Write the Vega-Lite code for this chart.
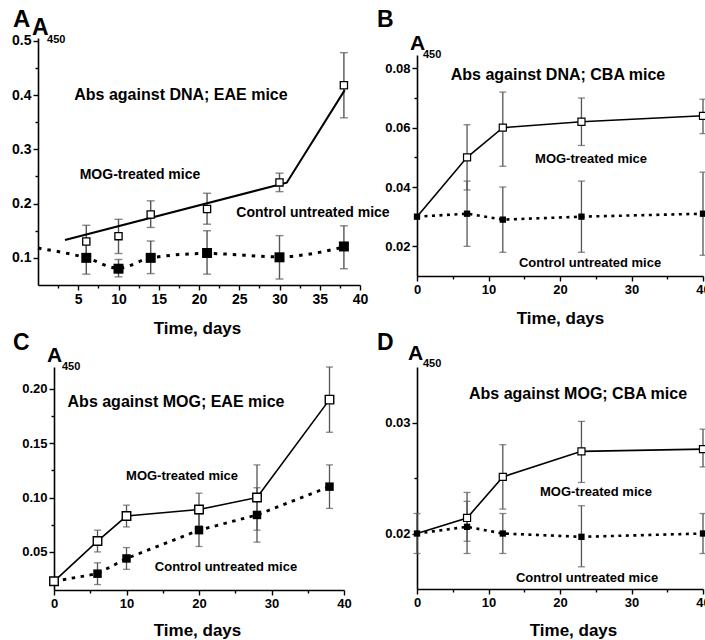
{
  "$schema": "https://vega.github.io/schema/vega-lite/v6.json",
  "width": 705,
  "height": 640,
  "autosize": {"type": "none"},
  "padding": 0,
  "background": "white",
  "config": {
    "view": {"stroke": null},
    "axis": {"domainColor": "black", "domainWidth": 1.6, "tickColor": "black", "tickWidth": 1.4, "labelFont": "Liberation Sans", "labelFontWeight": "bold", "labelFontSize": 13, "labelColor": "black", "titleFont": "Liberation Sans", "titleFontWeight": "bold", "titleFontSize": 17, "titleColor": "black", "grid": false, "labelFlush": false, "labelPadding": 2},
    "text": {"font": "Liberation Sans", "fontWeight": "bold", "color": "black"}
  },
  "datasets": {
    "ptsA": [
      {"series": "MOG", "day": 6, "val": 0.130, "lo": 0.100, "hi": 0.160},
      {"series": "MOG", "day": 10, "val": 0.140, "lo": 0.108, "hi": 0.171},
      {"series": "MOG", "day": 14, "val": 0.180, "lo": 0.156, "hi": 0.205},
      {"series": "MOG", "day": 21, "val": 0.190, "lo": 0.162, "hi": 0.219},
      {"series": "MOG", "day": 30, "val": 0.239, "lo": 0.222, "hi": 0.256},
      {"series": "MOG", "day": 38, "val": 0.418, "lo": 0.358, "hi": 0.478},
      {"series": "Control", "day": 6, "val": 0.100, "lo": 0.070, "hi": 0.130},
      {"series": "Control", "day": 10, "val": 0.080, "lo": 0.065, "hi": 0.097},
      {"series": "Control", "day": 14, "val": 0.100, "lo": 0.071, "hi": 0.131},
      {"series": "Control", "day": 21, "val": 0.109, "lo": 0.070, "hi": 0.150},
      {"series": "Control", "day": 30, "val": 0.101, "lo": 0.061, "hi": 0.141},
      {"series": "Control", "day": 38, "val": 0.121, "lo": 0.080, "hi": 0.159}
    ],
    "lineA": [
      {"series": "MOG", "day": 3.35, "val": 0.133},
      {"series": "MOG", "day": 30.9, "val": 0.2385},
      {"series": "MOG", "day": 38.1, "val": 0.409},
      {"series": "Control", "day": 0, "val": 0.118},
      {"series": "Control", "day": 6, "val": 0.100},
      {"series": "Control", "day": 10, "val": 0.081},
      {"series": "Control", "day": 14, "val": 0.100},
      {"series": "Control", "day": 21, "val": 0.108},
      {"series": "Control", "day": 30, "val": 0.102},
      {"series": "Control", "day": 38, "val": 0.120}
    ],
    "ptsB": [
      {"series": "MOG", "day": 0, "val": 0.030, "lo": null, "hi": null},
      {"series": "MOG", "day": 7, "val": 0.050, "lo": 0.039, "hi": 0.061},
      {"series": "MOG", "day": 12, "val": 0.060, "lo": 0.047, "hi": 0.072},
      {"series": "MOG", "day": 23, "val": 0.062, "lo": 0.054, "hi": 0.070},
      {"series": "MOG", "day": 40, "val": 0.064, "lo": 0.058, "hi": 0.0696},
      {"series": "Control", "day": 0, "val": 0.030, "lo": null, "hi": null},
      {"series": "Control", "day": 7, "val": 0.031, "lo": 0.020, "hi": 0.042},
      {"series": "Control", "day": 12, "val": 0.029, "lo": 0.018, "hi": 0.040},
      {"series": "Control", "day": 23, "val": 0.030, "lo": 0.018, "hi": 0.042},
      {"series": "Control", "day": 40, "val": 0.031, "lo": 0.017, "hi": 0.045}
    ],
    "ptsC": [
      {"series": "MOG", "day": 0, "val": 0.023, "lo": null, "hi": null},
      {"series": "MOG", "day": 6, "val": 0.060, "lo": 0.050, "hi": 0.070},
      {"series": "MOG", "day": 10, "val": 0.083, "lo": 0.073, "hi": 0.093},
      {"series": "MOG", "day": 20, "val": 0.089, "lo": 0.074, "hi": 0.104},
      {"series": "MOG", "day": 28, "val": 0.100, "lo": 0.070, "hi": 0.130},
      {"series": "MOG", "day": 38, "val": 0.190, "lo": 0.160, "hi": 0.220},
      {"series": "Control", "day": 0, "val": 0.023, "lo": null, "hi": null},
      {"series": "Control", "day": 6, "val": 0.030, "lo": 0.020, "hi": 0.040},
      {"series": "Control", "day": 10, "val": 0.044, "lo": 0.034, "hi": 0.054},
      {"series": "Control", "day": 20, "val": 0.070, "lo": 0.055, "hi": 0.085},
      {"series": "Control", "day": 28, "val": 0.084, "lo": 0.059, "hi": 0.109},
      {"series": "Control", "day": 38, "val": 0.110, "lo": 0.090, "hi": 0.130}
    ],
    "ptsD": [
      {"series": "MOG", "day": 0, "val": 0.0200, "lo": null, "hi": null},
      {"series": "MOG", "day": 7, "val": 0.0214, "lo": 0.0193, "hi": 0.0237},
      {"series": "MOG", "day": 12, "val": 0.0251, "lo": 0.0222, "hi": 0.0280},
      {"series": "MOG", "day": 23, "val": 0.0274, "lo": 0.0246, "hi": 0.0301},
      {"series": "MOG", "day": 40, "val": 0.0276, "lo": 0.0260, "hi": 0.0294},
      {"series": "Control", "day": 0, "val": 0.0200, "lo": 0.0182, "hi": 0.0218},
      {"series": "Control", "day": 7, "val": 0.0206, "lo": 0.0182, "hi": 0.0229},
      {"series": "Control", "day": 12, "val": 0.0200, "lo": 0.0182, "hi": 0.0218},
      {"series": "Control", "day": 23, "val": 0.0197, "lo": 0.0170, "hi": 0.0225},
      {"series": "Control", "day": 40, "val": 0.0200, "lo": 0.0182, "hi": 0.0218}
    ]
  },
  "resolve": {"scale": {"x": "independent", "y": "independent"}, "axis": {"x": "independent", "y": "independent"}},
  "layer": [
    {
      "layer": [
        {"data": {"name": "ptsA"}, "mark": {"type": "rule", "color": "#555", "strokeWidth": 1.4},
         "encoding": {
           "x": {"field": "day", "type": "quantitative", "scale": {"domain": [0, 40], "range": [38, 360], "nice": false, "zero": false},
                 "axis": {"orient": "bottom", "offset": -355, "values": [2.5, 5, 7.5, 10, 12.5, 15, 17.5, 20, 22.5, 25, 27.5, 30, 32.5, 35, 37.5, 40], "labelExpr": "datum.value % 5 === 0 ? datum.label : ''", "tickSize": {"condition": {"test": "datum.value % 5 !== 0", "value": 3}, "value": 5}, "title": "Time, days", "titleX": 197, "titleY": 43, "titleBaseline": "middle", "labelFontSize": 14}},
           "y": {"field": "lo", "type": "quantitative", "scale": {"domain": [0.05, 0.505], "range": [285, 38], "nice": false, "zero": false},
                 "axis": {"orient": "left", "offset": -38, "values": [0.1, 0.15, 0.2, 0.25, 0.3, 0.35, 0.4, 0.45, 0.5], "labelExpr": "indexof([0.1, 0.2, 0.3, 0.4, 0.5], datum.value) >= 0 ? format(datum.value, '.1f') : ''", "tickSize": {"condition": {"test": "indexof([0.1, 0.2, 0.3, 0.4, 0.5], datum.value) < 0", "value": 3}, "value": 5}, "title": null, "labelFontSize": 14}},
           "y2": {"field": "hi"}}},
        {"data": {"name": "ptsA"}, "mark": {"type": "tick", "orient": "horizontal", "size": 8, "thickness": 1.4, "color": "#555"},
         "encoding": {
           "x": {"field": "day", "type": "quantitative", "scale": {"domain": [0, 40], "range": [38, 360], "nice": false, "zero": false}},
           "y": {"field": "lo", "type": "quantitative", "scale": {"domain": [0.05, 0.505], "range": [285, 38], "nice": false, "zero": false}}}},
        {"data": {"name": "ptsA"}, "mark": {"type": "tick", "orient": "horizontal", "size": 8, "thickness": 1.4, "color": "#555"},
         "encoding": {
           "x": {"field": "day", "type": "quantitative", "scale": {"domain": [0, 40], "range": [38, 360], "nice": false, "zero": false}},
           "y": {"field": "hi", "type": "quantitative", "scale": {"domain": [0.05, 0.505], "range": [285, 38], "nice": false, "zero": false}}}},
        {"data": {"name": "lineA"}, "transform": [{"filter": "datum.series === 'MOG'"}], "mark": {"type": "line", "color": "black", "strokeWidth": 2},
         "encoding": {
           "x": {"field": "day", "type": "quantitative", "scale": {"domain": [0, 40], "range": [38, 360], "nice": false, "zero": false}},
           "y": {"field": "val", "type": "quantitative", "scale": {"domain": [0.05, 0.505], "range": [285, 38], "nice": false, "zero": false}}}},
        {"data": {"name": "lineA"}, "transform": [{"filter": "datum.series === 'Control'"}], "mark": {"type": "line", "color": "black", "strokeWidth": 3, "strokeDash": [3.5, 6], "interpolate": "monotone"},
         "encoding": {
           "x": {"field": "day", "type": "quantitative", "scale": {"domain": [0, 40], "range": [38, 360], "nice": false, "zero": false}},
           "y": {"field": "val", "type": "quantitative", "scale": {"domain": [0.05, 0.505], "range": [285, 38], "nice": false, "zero": false}}}},
        {"data": {"name": "ptsA"}, "transform": [{"filter": "datum.series === 'Control'"}], "mark": {"type": "square", "size": 100, "color": "black", "opacity": 1},
         "encoding": {
           "x": {"field": "day", "type": "quantitative", "scale": {"domain": [0, 40], "range": [38, 360], "nice": false, "zero": false}},
           "y": {"field": "val", "type": "quantitative", "scale": {"domain": [0.05, 0.505], "range": [285, 38], "nice": false, "zero": false}}}},
        {"data": {"name": "ptsA"}, "transform": [{"filter": "datum.series === 'MOG'"}], "mark": {"type": "square", "size": 52, "fill": "white", "stroke": "black", "strokeWidth": 1.3, "opacity": 1},
         "encoding": {
           "x": {"field": "day", "type": "quantitative", "scale": {"domain": [0, 40], "range": [38, 360], "nice": false, "zero": false}},
           "y": {"field": "val", "type": "quantitative", "scale": {"domain": [0.05, 0.505], "range": [285, 38], "nice": false, "zero": false}}}},
        {"data": {"values": [{}]}, "mark": {"type": "text", "text": "A", "fontSize": 24, "align": "left", "baseline": "alphabetic"},
         "encoding": {
           "x": {"datum": -3.11, "type": "quantitative", "scale": {"domain": [0, 40], "range": [38, 360], "nice": false, "zero": false}},
           "y": {"datum": 0.5253, "type": "quantitative", "scale": {"domain": [0.05, 0.505], "range": [285, 38], "nice": false, "zero": false}}}},
        {"data": {"values": [{}]}, "mark": {"type": "text", "text": "A", "fontSize": 23, "align": "left", "baseline": "alphabetic"},
         "encoding": {
           "x": {"datum": -0.745, "type": "quantitative", "scale": {"domain": [0, 40], "range": [38, 360], "nice": false, "zero": false}},
           "y": {"datum": 0.5105, "type": "quantitative", "scale": {"domain": [0.05, 0.505], "range": [285, 38], "nice": false, "zero": false}}}},
        {"data": {"values": [{}]}, "mark": {"type": "text", "text": "450", "fontSize": 11, "align": "left", "baseline": "alphabetic"},
         "encoding": {
           "x": {"datum": 1.12, "type": "quantitative", "scale": {"domain": [0, 40], "range": [38, 360], "nice": false, "zero": false}},
           "y": {"datum": 0.4958, "type": "quantitative", "scale": {"domain": [0.05, 0.505], "range": [285, 38], "nice": false, "zero": false}}}},
        {"data": {"values": [{}]}, "mark": {"type": "text", "text": "Abs against DNA; EAE mice", "fontSize": 16, "align": "center", "baseline": "middle"},
         "encoding": {
           "x": {"datum": 17.76, "type": "quantitative", "scale": {"domain": [0, 40], "range": [38, 360], "nice": false, "zero": false}},
           "y": {"datum": 0.400, "type": "quantitative", "scale": {"domain": [0.05, 0.505], "range": [285, 38], "nice": false, "zero": false}}}},
        {"data": {"values": [{}]}, "mark": {"type": "text", "text": "MOG-treated mice", "fontSize": 14, "align": "center", "baseline": "middle"},
         "encoding": {
           "x": {"datum": 12.67, "type": "quantitative", "scale": {"domain": [0, 40], "range": [38, 360], "nice": false, "zero": false}},
           "y": {"datum": 0.2526, "type": "quantitative", "scale": {"domain": [0.05, 0.505], "range": [285, 38], "nice": false, "zero": false}}}},
        {"data": {"values": [{}]}, "mark": {"type": "text", "text": "Control untreated mice", "fontSize": 14, "align": "center", "baseline": "middle"},
         "encoding": {
           "x": {"datum": 34.16, "type": "quantitative", "scale": {"domain": [0, 40], "range": [38, 360], "nice": false, "zero": false}},
           "y": {"datum": 0.1826, "type": "quantitative", "scale": {"domain": [0.05, 0.505], "range": [285, 38], "nice": false, "zero": false}}}}
      ]
    },
    {
      "layer": [
        {"data": {"name": "ptsB"}, "mark": {"type": "rule", "color": "#555", "strokeWidth": 1.3},
         "encoding": {
           "x": {"field": "day", "type": "quantitative", "scale": {"domain": [0, 40], "range": [417, 703], "nice": false, "zero": false},
                 "axis": {"orient": "bottom", "offset": -364, "values": [0, 5, 10, 15, 20, 25, 30, 35, 40], "labelExpr": "datum.value % 10 === 0 ? datum.label : ''", "tickSize": {"condition": {"test": "datum.value % 10 !== 0", "value": 3}, "value": 5}, "title": "Time, days", "titleY": 42, "titleBaseline": "middle"}},
           "y": {"field": "lo", "type": "quantitative", "scale": {"domain": [0.01, 0.0845], "range": [276, 55], "nice": false, "zero": false},
                 "axis": {"orient": "left", "offset": -417, "values": [0.02, 0.03, 0.04, 0.05, 0.06, 0.07, 0.08], "labelExpr": "indexof([0.02, 0.04, 0.06, 0.08], datum.value) >= 0 ? format(datum.value, '.2f') : ''", "tickSize": {"condition": {"test": "indexof([0.02, 0.04, 0.06, 0.08], datum.value) < 0", "value": 3}, "value": 5}, "title": null}},
           "y2": {"field": "hi"}}},
        {"data": {"name": "ptsB"}, "mark": {"type": "tick", "orient": "horizontal", "size": 7, "thickness": 1.3, "color": "#555"},
         "encoding": {
           "x": {"field": "day", "type": "quantitative", "scale": {"domain": [0, 40], "range": [417, 703], "nice": false, "zero": false}},
           "y": {"field": "lo", "type": "quantitative", "scale": {"domain": [0.01, 0.0845], "range": [276, 55], "nice": false, "zero": false}}}},
        {"data": {"name": "ptsB"}, "mark": {"type": "tick", "orient": "horizontal", "size": 7, "thickness": 1.3, "color": "#555"},
         "encoding": {
           "x": {"field": "day", "type": "quantitative", "scale": {"domain": [0, 40], "range": [417, 703], "nice": false, "zero": false}},
           "y": {"field": "hi", "type": "quantitative", "scale": {"domain": [0.01, 0.0845], "range": [276, 55], "nice": false, "zero": false}}}},
        {"data": {"name": "ptsB"}, "transform": [{"filter": "datum.series === 'MOG'"}], "mark": {"type": "line", "color": "black", "strokeWidth": 1.6},
         "encoding": {
           "x": {"field": "day", "type": "quantitative", "scale": {"domain": [0, 40], "range": [417, 703], "nice": false, "zero": false}},
           "y": {"field": "val", "type": "quantitative", "scale": {"domain": [0.01, 0.0845], "range": [276, 55], "nice": false, "zero": false}}}},
        {"data": {"name": "ptsB"}, "transform": [{"filter": "datum.series === 'Control'"}], "mark": {"type": "line", "color": "black", "strokeWidth": 2.6, "strokeDash": [3, 4.5]},
         "encoding": {
           "x": {"field": "day", "type": "quantitative", "scale": {"domain": [0, 40], "range": [417, 703], "nice": false, "zero": false}},
           "y": {"field": "val", "type": "quantitative", "scale": {"domain": [0.01, 0.0845], "range": [276, 55], "nice": false, "zero": false}}}},
        {"data": {"name": "ptsB"}, "transform": [{"filter": "datum.series === 'MOG' && datum.day > 0"}], "mark": {"type": "square", "size": 50, "fill": "white", "stroke": "black", "strokeWidth": 1.2, "opacity": 1},
         "encoding": {
           "x": {"field": "day", "type": "quantitative", "scale": {"domain": [0, 40], "range": [417, 703], "nice": false, "zero": false}},
           "y": {"field": "val", "type": "quantitative", "scale": {"domain": [0.01, 0.0845], "range": [276, 55], "nice": false, "zero": false}}}},
        {"data": {"name": "ptsB"}, "transform": [{"filter": "datum.series === 'Control'"}], "mark": {"type": "square", "size": 40, "color": "black", "opacity": 1},
         "encoding": {
           "x": {"field": "day", "type": "quantitative", "scale": {"domain": [0, 40], "range": [417, 703], "nice": false, "zero": false}},
           "y": {"field": "val", "type": "quantitative", "scale": {"domain": [0.01, 0.0845], "range": [276, 55], "nice": false, "zero": false}}}},
        {"data": {"values": [{}]}, "mark": {"type": "text", "text": "B", "fontSize": 23, "align": "left", "baseline": "alphabetic"},
         "encoding": {
           "x": {"datum": -5.59, "type": "quantitative", "scale": {"domain": [0, 40], "range": [417, 703], "nice": false, "zero": false}},
           "y": {"datum": 0.09394, "type": "quantitative", "scale": {"domain": [0.01, 0.0845], "range": [276, 55], "nice": false, "zero": false}}}},
        {"data": {"values": [{}]}, "mark": {"type": "text", "text": "A", "fontSize": 21, "align": "left", "baseline": "alphabetic"},
         "encoding": {
           "x": {"datum": -0.98, "type": "quantitative", "scale": {"domain": [0, 40], "range": [417, 703], "nice": false, "zero": false}},
           "y": {"datum": 0.08619, "type": "quantitative", "scale": {"domain": [0.01, 0.0845], "range": [276, 55], "nice": false, "zero": false}}}},
        {"data": {"values": [{}]}, "mark": {"type": "text", "text": "450", "fontSize": 11, "align": "left", "baseline": "alphabetic"},
         "encoding": {
           "x": {"datum": 0.84, "type": "quantitative", "scale": {"domain": [0, 40], "range": [417, 703], "nice": false, "zero": false}},
           "y": {"datum": 0.08349, "type": "quantitative", "scale": {"domain": [0.01, 0.0845], "range": [276, 55], "nice": false, "zero": false}}}},
        {"data": {"values": [{}]}, "mark": {"type": "text", "text": "Abs against DNA; CBA mice", "fontSize": 16, "align": "center", "baseline": "middle"},
         "encoding": {
           "x": {"datum": 19.72, "type": "quantitative", "scale": {"domain": [0, 40], "range": [417, 703], "nice": false, "zero": false}},
           "y": {"datum": 0.07776, "type": "quantitative", "scale": {"domain": [0.01, 0.0845], "range": [276, 55], "nice": false, "zero": false}}}},
        {"data": {"values": [{}]}, "mark": {"type": "text", "text": "MOG-treated mice", "fontSize": 13, "align": "center", "baseline": "middle"},
         "encoding": {
           "x": {"datum": 24.34, "type": "quantitative", "scale": {"domain": [0, 40], "range": [417, 703], "nice": false, "zero": false}},
           "y": {"datum": 0.04944, "type": "quantitative", "scale": {"domain": [0.01, 0.0845], "range": [276, 55], "nice": false, "zero": false}}}},
        {"data": {"values": [{}]}, "mark": {"type": "text", "text": "Control untreated mice", "fontSize": 13, "align": "center", "baseline": "middle"},
         "encoding": {
           "x": {"datum": 24.2, "type": "quantitative", "scale": {"domain": [0, 40], "range": [417, 703], "nice": false, "zero": false}},
           "y": {"datum": 0.01438, "type": "quantitative", "scale": {"domain": [0.01, 0.0845], "range": [276, 55], "nice": false, "zero": false}}}}
      ]
    },
    {
      "layer": [
        {"data": {"name": "ptsC"}, "mark": {"type": "rule", "color": "#555", "strokeWidth": 1.3},
         "encoding": {
           "x": {"field": "day", "type": "quantitative", "scale": {"domain": [0, 40], "range": [54, 344], "nice": false, "zero": false},
                 "axis": {"orient": "bottom", "offset": -50, "values": [0, 5, 10, 15, 20, 25, 30, 35, 40], "labelExpr": "datum.value % 10 === 0 ? datum.label : ''", "tickSize": {"condition": {"test": "datum.value % 10 !== 0", "value": 3}, "value": 5}, "title": "Time, days", "titleX": 197, "titleY": 40, "titleBaseline": "middle"}},
           "y": {"field": "lo", "type": "quantitative", "scale": {"domain": [0.015, 0.22], "range": [590, 367], "nice": false, "zero": false},
                 "axis": {"orient": "left", "offset": -54, "values": [0.025, 0.05, 0.075, 0.1, 0.125, 0.15, 0.175, 0.2], "labelExpr": "indexof([0.05, 0.1, 0.15, 0.2], datum.value) >= 0 ? format(datum.value, '.2f') : ''", "tickSize": {"condition": {"test": "indexof([0.05, 0.1, 0.15, 0.2], datum.value) < 0", "value": 3}, "value": 5}, "title": null}},
           "y2": {"field": "hi"}}},
        {"data": {"name": "ptsC"}, "mark": {"type": "tick", "orient": "horizontal", "size": 7, "thickness": 1.3, "color": "#555"},
         "encoding": {
           "x": {"field": "day", "type": "quantitative", "scale": {"domain": [0, 40], "range": [54, 344], "nice": false, "zero": false}},
           "y": {"field": "lo", "type": "quantitative", "scale": {"domain": [0.015, 0.22], "range": [590, 367], "nice": false, "zero": false}}}},
        {"data": {"name": "ptsC"}, "mark": {"type": "tick", "orient": "horizontal", "size": 7, "thickness": 1.3, "color": "#555"},
         "encoding": {
           "x": {"field": "day", "type": "quantitative", "scale": {"domain": [0, 40], "range": [54, 344], "nice": false, "zero": false}},
           "y": {"field": "hi", "type": "quantitative", "scale": {"domain": [0.015, 0.22], "range": [590, 367], "nice": false, "zero": false}}}},
        {"data": {"name": "ptsC"}, "transform": [{"filter": "datum.series === 'MOG'"}], "mark": {"type": "line", "color": "black", "strokeWidth": 1.6},
         "encoding": {
           "x": {"field": "day", "type": "quantitative", "scale": {"domain": [0, 40], "range": [54, 344], "nice": false, "zero": false}},
           "y": {"field": "val", "type": "quantitative", "scale": {"domain": [0.015, 0.22], "range": [590, 367], "nice": false, "zero": false}}}},
        {"data": {"name": "ptsC"}, "transform": [{"filter": "datum.series === 'Control'"}], "mark": {"type": "line", "color": "black", "strokeWidth": 2.8, "strokeDash": [3.5, 5.5]},
         "encoding": {
           "x": {"field": "day", "type": "quantitative", "scale": {"domain": [0, 40], "range": [54, 344], "nice": false, "zero": false}},
           "y": {"field": "val", "type": "quantitative", "scale": {"domain": [0.015, 0.22], "range": [590, 367], "nice": false, "zero": false}}}},
        {"data": {"name": "ptsC"}, "transform": [{"filter": "datum.series === 'Control'"}], "mark": {"type": "square", "size": 72, "color": "black", "opacity": 1},
         "encoding": {
           "x": {"field": "day", "type": "quantitative", "scale": {"domain": [0, 40], "range": [54, 344], "nice": false, "zero": false}},
           "y": {"field": "val", "type": "quantitative", "scale": {"domain": [0.015, 0.22], "range": [590, 367], "nice": false, "zero": false}}}},
        {"data": {"name": "ptsC"}, "transform": [{"filter": "datum.series === 'MOG'"}], "mark": {"type": "square", "size": 72, "fill": "white", "stroke": "black", "strokeWidth": 1.4, "opacity": 1},
         "encoding": {
           "x": {"field": "day", "type": "quantitative", "scale": {"domain": [0, 40], "range": [54, 344], "nice": false, "zero": false}},
           "y": {"field": "val", "type": "quantitative", "scale": {"domain": [0.015, 0.22], "range": [590, 367], "nice": false, "zero": false}}}},
        {"data": {"values": [{}]}, "mark": {"type": "text", "text": "C", "fontSize": 23, "align": "left", "baseline": "alphabetic"},
         "encoding": {
           "x": {"datum": -5.655, "type": "quantitative", "scale": {"domain": [0, 40], "range": [54, 344], "nice": false, "zero": false}},
           "y": {"datum": 0.2356, "type": "quantitative", "scale": {"domain": [0.015, 0.22], "range": [590, 367], "nice": false, "zero": false}}}},
        {"data": {"values": [{}]}, "mark": {"type": "text", "text": "A", "fontSize": 21, "align": "left", "baseline": "alphabetic"},
         "encoding": {
           "x": {"datum": -0.966, "type": "quantitative", "scale": {"domain": [0, 40], "range": [54, 344], "nice": false, "zero": false}},
           "y": {"datum": 0.2246, "type": "quantitative", "scale": {"domain": [0.015, 0.22], "range": [590, 367], "nice": false, "zero": false}}}},
        {"data": {"values": [{}]}, "mark": {"type": "text", "text": "450", "fontSize": 11, "align": "left", "baseline": "alphabetic"},
         "encoding": {
           "x": {"datum": 1.103, "type": "quantitative", "scale": {"domain": [0, 40], "range": [54, 344], "nice": false, "zero": false}},
           "y": {"datum": 0.2172, "type": "quantitative", "scale": {"domain": [0.015, 0.22], "range": [590, 367], "nice": false, "zero": false}}}},
        {"data": {"values": [{}]}, "mark": {"type": "text", "text": "Abs against MOG; EAE mice", "fontSize": 16, "align": "center", "baseline": "middle"},
         "encoding": {
           "x": {"datum": 16.83, "type": "quantitative", "scale": {"domain": [0, 40], "range": [54, 344], "nice": false, "zero": false}},
           "y": {"datum": 0.1878, "type": "quantitative", "scale": {"domain": [0.015, 0.22], "range": [590, 367], "nice": false, "zero": false}}}},
        {"data": {"values": [{}]}, "mark": {"type": "text", "text": "MOG-treated mice", "fontSize": 13, "align": "center", "baseline": "middle"},
         "encoding": {
           "x": {"datum": 17.66, "type": "quantitative", "scale": {"domain": [0, 40], "range": [54, 344], "nice": false, "zero": false}},
           "y": {"datum": 0.1198, "type": "quantitative", "scale": {"domain": [0.015, 0.22], "range": [590, 367], "nice": false, "zero": false}}}},
        {"data": {"values": [{}]}, "mark": {"type": "text", "text": "Control untreated mice", "fontSize": 13, "align": "center", "baseline": "middle"},
         "encoding": {
           "x": {"datum": 23.72, "type": "quantitative", "scale": {"domain": [0, 40], "range": [54, 344], "nice": false, "zero": false}},
           "y": {"datum": 0.0361, "type": "quantitative", "scale": {"domain": [0.015, 0.22], "range": [590, 367], "nice": false, "zero": false}}}}
      ]
    },
    {
      "layer": [
        {"data": {"name": "ptsD"}, "mark": {"type": "rule", "color": "#555", "strokeWidth": 1.3},
         "encoding": {
           "x": {"field": "day", "type": "quantitative", "scale": {"domain": [0, 40], "range": [417, 703], "nice": false, "zero": false},
                 "axis": {"orient": "bottom", "offset": -51, "values": [0, 5, 10, 15, 20, 25, 30, 35, 40], "labelExpr": "datum.value % 10 === 0 ? datum.label : ''", "tickSize": {"condition": {"test": "datum.value % 10 !== 0", "value": 3}, "value": 5}, "title": "Time, days", "titleX": 573, "titleY": 41, "titleBaseline": "middle"}},
           "y": {"field": "lo", "type": "quantitative", "scale": {"domain": [0.015, 0.035], "range": [589, 367], "nice": false, "zero": false},
                 "axis": {"orient": "left", "offset": -417, "values": [0.02, 0.025, 0.03], "labelExpr": "indexof([0.02, 0.03], datum.value) >= 0 ? format(datum.value, '.2f') : ''", "tickSize": {"condition": {"test": "indexof([0.02, 0.03], datum.value) < 0", "value": 3}, "value": 5}, "title": null}},
           "y2": {"field": "hi"}}},
        {"data": {"name": "ptsD"}, "mark": {"type": "tick", "orient": "horizontal", "size": 7, "thickness": 1.3, "color": "#555"},
         "encoding": {
           "x": {"field": "day", "type": "quantitative", "scale": {"domain": [0, 40], "range": [417, 703], "nice": false, "zero": false}},
           "y": {"field": "lo", "type": "quantitative", "scale": {"domain": [0.015, 0.035], "range": [589, 367], "nice": false, "zero": false}}}},
        {"data": {"name": "ptsD"}, "mark": {"type": "tick", "orient": "horizontal", "size": 7, "thickness": 1.3, "color": "#555"},
         "encoding": {
           "x": {"field": "day", "type": "quantitative", "scale": {"domain": [0, 40], "range": [417, 703], "nice": false, "zero": false}},
           "y": {"field": "hi", "type": "quantitative", "scale": {"domain": [0.015, 0.035], "range": [589, 367], "nice": false, "zero": false}}}},
        {"data": {"name": "ptsD"}, "transform": [{"filter": "datum.series === 'MOG'"}], "mark": {"type": "line", "color": "black", "strokeWidth": 1.6},
         "encoding": {
           "x": {"field": "day", "type": "quantitative", "scale": {"domain": [0, 40], "range": [417, 703], "nice": false, "zero": false}},
           "y": {"field": "val", "type": "quantitative", "scale": {"domain": [0.015, 0.035], "range": [589, 367], "nice": false, "zero": false}}}},
        {"data": {"name": "ptsD"}, "transform": [{"filter": "datum.series === 'Control'"}], "mark": {"type": "line", "color": "black", "strokeWidth": 2.6, "strokeDash": [3, 4.5]},
         "encoding": {
           "x": {"field": "day", "type": "quantitative", "scale": {"domain": [0, 40], "range": [417, 703], "nice": false, "zero": false}},
           "y": {"field": "val", "type": "quantitative", "scale": {"domain": [0.015, 0.035], "range": [589, 367], "nice": false, "zero": false}}}},
        {"data": {"name": "ptsD"}, "transform": [{"filter": "datum.series === 'MOG' && datum.day > 0"}], "mark": {"type": "square", "size": 50, "fill": "white", "stroke": "black", "strokeWidth": 1.2, "opacity": 1},
         "encoding": {
           "x": {"field": "day", "type": "quantitative", "scale": {"domain": [0, 40], "range": [417, 703], "nice": false, "zero": false}},
           "y": {"field": "val", "type": "quantitative", "scale": {"domain": [0.015, 0.035], "range": [589, 367], "nice": false, "zero": false}}}},
        {"data": {"name": "ptsD"}, "transform": [{"filter": "datum.series === 'Control'"}], "mark": {"type": "square", "size": 40, "color": "black", "opacity": 1},
         "encoding": {
           "x": {"field": "day", "type": "quantitative", "scale": {"domain": [0, 40], "range": [417, 703], "nice": false, "zero": false}},
           "y": {"field": "val", "type": "quantitative", "scale": {"domain": [0.015, 0.035], "range": [589, 367], "nice": false, "zero": false}}}},
        {"data": {"values": [{}]}, "mark": {"type": "text", "text": "D", "fontSize": 23, "align": "left", "baseline": "alphabetic"},
         "encoding": {
           "x": {"datum": -5.59, "type": "quantitative", "scale": {"domain": [0, 40], "range": [417, 703], "nice": false, "zero": false}},
           "y": {"datum": 0.03653, "type": "quantitative", "scale": {"domain": [0.015, 0.035], "range": [589, 367], "nice": false, "zero": false}}}},
        {"data": {"values": [{}]}, "mark": {"type": "text", "text": "A", "fontSize": 21, "align": "left", "baseline": "alphabetic"},
         "encoding": {
           "x": {"datum": -1.26, "type": "quantitative", "scale": {"domain": [0, 40], "range": [417, 703], "nice": false, "zero": false}},
           "y": {"datum": 0.03563, "type": "quantitative", "scale": {"domain": [0.015, 0.035], "range": [589, 367], "nice": false, "zero": false}}}},
        {"data": {"values": [{}]}, "mark": {"type": "text", "text": "450", "fontSize": 11, "align": "left", "baseline": "alphabetic"},
         "encoding": {
           "x": {"datum": 0.84, "type": "quantitative", "scale": {"domain": [0, 40], "range": [417, 703], "nice": false, "zero": false}},
           "y": {"datum": 0.035, "type": "quantitative", "scale": {"domain": [0.015, 0.035], "range": [589, 367], "nice": false, "zero": false}}}},
        {"data": {"values": [{}]}, "mark": {"type": "text", "text": "Abs against MOG; CBA mice", "fontSize": 16, "align": "center", "baseline": "middle"},
         "encoding": {
           "x": {"datum": 22.52, "type": "quantitative", "scale": {"domain": [0, 40], "range": [417, 703], "nice": false, "zero": false}},
           "y": {"datum": 0.03257, "type": "quantitative", "scale": {"domain": [0.015, 0.035], "range": [589, 367], "nice": false, "zero": false}}}},
        {"data": {"values": [{}]}, "mark": {"type": "text", "text": "MOG-treated mice", "fontSize": 13, "align": "center", "baseline": "middle"},
         "encoding": {
           "x": {"datum": 25.03, "type": "quantitative", "scale": {"domain": [0, 40], "range": [417, 703], "nice": false, "zero": false}},
           "y": {"datum": 0.02374, "type": "quantitative", "scale": {"domain": [0.015, 0.035], "range": [589, 367], "nice": false, "zero": false}}}},
        {"data": {"values": [{}]}, "mark": {"type": "text", "text": "Control untreated mice", "fontSize": 13, "align": "center", "baseline": "middle"},
         "encoding": {
           "x": {"datum": 23.78, "type": "quantitative", "scale": {"domain": [0, 40], "range": [417, 703], "nice": false, "zero": false}},
           "y": {"datum": 0.01599, "type": "quantitative", "scale": {"domain": [0.015, 0.035], "range": [589, 367], "nice": false, "zero": false}}}}
      ]
    }
  ]
}
